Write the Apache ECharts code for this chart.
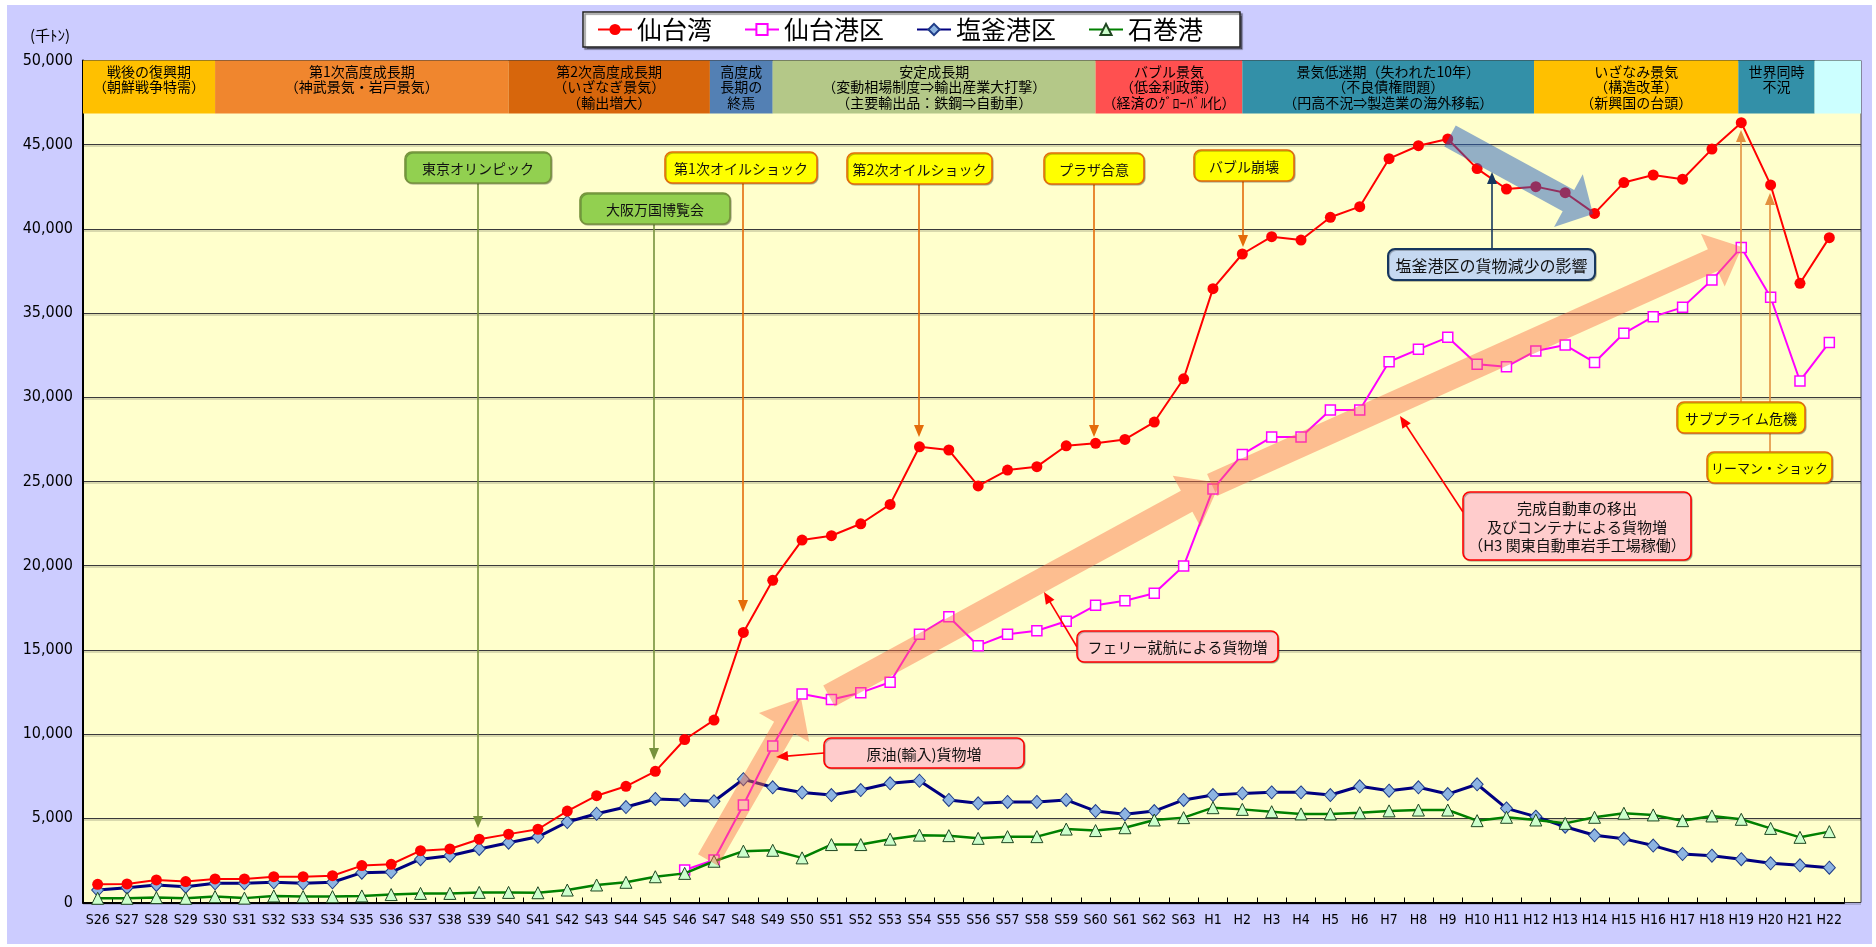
<!DOCTYPE html>
<html>
<head>
<meta charset="utf-8">
<script src="https://cdn.jsdelivr.net/npm/echarts@6/dist/echarts.min.js"></script>
<style>
html,body{margin:0;padding:0;background:#fff;}
#chart{width:1876px;height:947px;}
</style>
</head>
<body>
<div id="chart"></div>
<script>
// ---------------- data ----------------
const categories = ['S26','S27','S28','S29','S30','S31','S32','S33','S34','S35','S36','S37','S38','S39','S40','S41','S42','S43','S44','S45','S46','S47','S48','S49','S50','S51','S52','S53','S54','S55','S56','S57','S58','S59','S60','S61','S62','S63','H1','H2','H3','H4','H5','H6','H7','H8','H9','H10','H11','H12','H13','H14','H15','H16','H17','H18','H19','H20','H21','H22'];

const sendaiwan = [1080,1100,1340,1240,1400,1400,1530,1530,1590,2190,2270,3080,3180,3760,4060,4350,5430,6340,6900,7790,9680,10830,16040,19130,21520,21780,22490,23640,27060,26870,24740,25680,25880,27120,27270,27500,28530,31100,36450,38510,39540,39340,40690,41320,44170,44940,45340,43580,42370,42510,42150,40920,42750,43200,42950,44740,46310,42610,36770,39480];

const sendaiko = [null,null,null,null,null,null,null,null,null,null,null,null,null,null,null,null,null,null,null,null,1930,2520,5790,9290,12380,12060,12460,13080,15930,16970,15250,15930,16140,16700,17650,17920,18360,19980,24550,26610,27640,27640,29240,29240,32110,32850,33560,31960,31820,32750,33100,32070,33800,34790,35340,36960,38900,35940,30970,33260];

const shiogamako = [740,880,1040,940,1140,1140,1200,1140,1200,1770,1810,2570,2780,3180,3550,3900,4780,5270,5670,6150,6090,6010,7320,6840,6530,6380,6680,7080,7230,6090,5890,5970,5970,6090,5430,5240,5430,6090,6380,6480,6540,6540,6380,6900,6640,6840,6440,7020,5590,5100,4500,3990,3780,3380,2880,2780,2570,2330,2210,2070];

const ishinomakiko = [250,250,290,250,350,260,390,350,350,390,470,540,540,600,600,580,740,1040,1200,1530,1730,2450,3050,3100,2650,3440,3440,3760,4000,3970,3810,3910,3910,4360,4270,4440,4900,5040,5630,5530,5390,5260,5260,5330,5440,5490,5490,4860,5060,4900,4700,5060,5300,5200,4860,5140,4940,4400,3870,4210];

const seriesNames = ['仙台湾','仙台港区','塩釜港区','石巻港'];

// economic periods (start / end in category-index units)
const periodStart = [-0.5, 4, 14, 20.86, 23, 34, 39, 48.94, 55.9, 58.5];
const periodEnd   = [4, 14, 20.86, 23, 34, 39, 48.94, 55.9, 58.5, 60.08];
const periodLabels = [
  '戦後の復興期\n（朝鮮戦争特需）',
  '第1次高度成長期\n（神武景気・岩戸景気）',
  '第2次高度成長期\n（いざなぎ景気）\n（輸出増大）',
  '高度成\n長期の\n終焉',
  '安定成長期\n（変動相場制度⇒輸出産業大打撃）\n（主要輸出品：鉄鋼⇒自動車）',
  'バブル景気\n（低金利政策）\n（経済のｸﾞﾛｰﾊﾞﾙ化）',
  '景気低迷期（失われた10年）\n（不良債権問題）\n（円高不況⇒製造業の海外移転）',
  'いざなみ景気\n（構造改革）\n（新興国の台頭）',
  '世界同時\n不況',
  ''
];
const yTicks = [0,5000,10000,15000,20000,25000,30000,35000,40000,45000,50000];

// ---------------- styles ----------------
const periodColors = ['#FFC000','#F0862E','#D7660C','#5380B4','#B4C888','#FF5050','#3390A8','#FFC000','#3390A8','#CCFFFF'];
const BAND_TOP = 50000, BAND_BOTTOM = 46850;
const CJK = "'Noto Sans CJK JP','Noto Sans CJK SC',sans-serif";
const NARROW = "'Liberation Sans Narrow','Arial Narrow','DejaVu Sans Condensed',sans-serif";

const chart = echarts.init(document.getElementById('chart'));

const kinds = {
  green:  {fill:'#92D050', stroke:'#76923C', line:'#76923C'},
  yellow: {fill:'#FFFF00', stroke:'#E46C0A', line:'#E46C0A'},
  yellow2:{fill:'#FFFF00', stroke:'#E46C0A', line:'#E3913F'},
  blue:   {fill:'#C6D9F1', stroke:'#17375E', line:'#17375E'},
  pink:   {fill:'#FFCCCC', stroke:'#FF0000', line:'#FF0000'}
};
const callouts = [
  {text:'東京オリンピック', box:[405,152,146,31], kind:'green', fs:14, from:[478,183], to:[478,828]},
  {text:'大阪万国博覧会', box:[580,193,150,31], kind:'green', fs:14, from:[654,224], to:[654,760]},
  {text:'第1次オイルショック', box:[665,152,152,31], kind:'yellow', fs:14, from:[743,183], to:[743,612]},
  {text:'第2次オイルショック', box:[847,153,145,31], kind:'yellow', fs:14, from:[919,184], to:[919,437]},
  {text:'プラザ合意', box:[1044,153,100,31], kind:'yellow', fs:14, from:[1094,184], to:[1094,437]},
  {text:'バブル崩壊', box:[1194,150,100,31], kind:'yellow', fs:14, from:[1243,181], to:[1243,247]},
  {text:'塩釜港区の貨物減少の影響', box:[1388,249,207,31], kind:'blue', fs:16, from:[1492,249], to:[1492,172]},
  {text:'リーマン・ショック', box:[1707,452,125,31], kind:'yellow2', fs:13, from:[1770,452], to:[1770,193]},
  {text:'サブプライム危機', box:[1677,402,128,31], kind:'yellow2', fs:14, from:[1741,402], to:[1741,130]},
  {text:'完成自動車の移出\n及びコンテナによる貨物増\n（H3 関東自動車岩手工場稼働）', box:[1463,492,228,68], kind:'pink', fs:15, lh:18.5, from:[1463,512], to:[1400,416]},
  {text:'フェリー就航による貨物増', box:[1077,631,201,31], kind:'pink', fs:15, from:[1077,647], to:[1044,592]},
  {text:'原油(輸入)貨物増', box:[824,738,200,30], kind:'pink', fs:15, from:[824,753], to:[776,757]}
];
const bigArrows = [
  {tail:[708,860], tip:[801,698], sh:11.5, hl:34, hw:29, color:'rgba(250,110,70,0.45)'},
  {tail:[829,696], tip:[1220,483], sh:12, hl:38, hw:29, color:'rgba(250,110,70,0.45)'},
  {tail:[1212,485], tip:[1742,247], sh:12, hl:32, hw:29, color:'rgba(250,110,70,0.45)'},
  {tail:[1450,136], tip:[1593,214], sh:12, hl:28, hw:30, color:'rgba(40,95,190,0.5)'}
];

function arrowPoly(tail, tip, sh, hl, hw){
  const dx = tip[0]-tail[0], dy = tip[1]-tail[1];
  const L = Math.hypot(dx,dy), ux = dx/L, uy = dy/L, px = -uy, py = ux;
  const bx = tip[0]-ux*hl, by = tip[1]-uy*hl;
  return [[tail[0]+px*sh, tail[1]+py*sh],[bx+px*sh, by+py*sh],[bx+px*hw, by+py*hw],tip.slice(),
          [bx-px*hw, by-py*hw],[bx-px*sh, by-py*sh],[tail[0]-px*sh, tail[1]-py*sh]];
}
function headPoly(from, to, hl, hw){
  const dx = to[0]-from[0], dy = to[1]-from[1];
  const L = Math.hypot(dx,dy), ux = dx/L, uy = dy/L, px = -uy, py = ux;
  const bx = to[0]-ux*hl, by = to[1]-uy*hl;
  return {pts:[to.slice(), [bx+px*hw, by+py*hw], [bx-px*hw, by-py*hw]], base:[bx+ux*1, by+uy*1]};
}

const graphics = [];
// white page edges
graphics.push({type:'rect', shape:{x:0,y:0,width:1876,height:5}, style:{fill:'#fff'}, z:100});
graphics.push({type:'rect', shape:{x:0,y:0,width:7,height:947}, style:{fill:'#fff'}, z:100});
graphics.push({type:'rect', shape:{x:0,y:944,width:1876,height:3}, style:{fill:'#fff'}, z:100});
graphics.push({type:'rect', shape:{x:1872,y:0,width:4,height:947}, style:{fill:'#fff'}, z:100});
// unit label
graphics.push({type:'text', x:30, y:35, style:{text:'(千ﾄﾝ)', font:"15px "+CJK, fill:'#000', verticalAlign:'middle', align:'left'}, z:100});
// big translucent arrows
bigArrows.forEach(a=>{
  graphics.push({type:'polygon', shape:{points:arrowPoly(a.tail,a.tip,a.sh,a.hl,a.hw)}, style:{fill:a.color}, z:60, silent:true});
});
// callout lines
callouts.forEach(c=>{
  const k = kinds[c.kind];
  const h = headPoly(c.from, c.to, 12, 5);
  graphics.push({type:'line', shape:{x1:c.from[0], y1:c.from[1], x2:h.base[0], y2:h.base[1]}, style:{stroke:k.line, lineWidth:1.6}, z:70});
  graphics.push({type:'polygon', shape:{points:h.pts}, style:{fill:k.line}, z:70});
});
// callout boxes
callouts.forEach(c=>{
  const k = kinds[c.kind];
  const [x,y,w,hh] = c.box;
  graphics.push({type:'rect', shape:{x:x,y:y,width:w,height:hh,r:7},
    style:{fill:k.fill, stroke:k.stroke, lineWidth:c.kind==='blue'?2:1.6, shadowColor:'rgba(0,0,0,0.25)', shadowOffsetX:1, shadowOffsetY:1}, z:80});
  graphics.push({type:'text', x:x+w/2, y:y+hh/2+1,
    style:{text:c.text, font:c.fs+"px "+CJK, fill:'#111', align:'center', verticalAlign:'middle', lineHeight:c.lh||c.fs+4}, z:81});
});

const periodData = periodStart.map((s,i)=>[s, periodEnd[i], i]);

const option = {
  animation:false,
  backgroundColor:'#CCCCFF',
  legend:{
    data:seriesNames,
    left:583, top:12,
    padding:[5,37,5,14],
    itemWidth:34, itemHeight:14, itemGap:32,
    backgroundColor:'#fff', borderColor:'#222', borderWidth:1.5,
    shadowColor:'rgba(0,0,0,0.45)', shadowOffsetX:2, shadowOffsetY:2, shadowBlur:1,
    textStyle:{fontSize:25, fontFamily:CJK, color:'#000'}
  },
  grid:[
    {left:83, right:32, top:60.5, bottom:44.5, show:false},
    {left:83, right:15, top:60.5, bottom:44.5, show:true, backgroundColor:'#FFFFCC', borderColor:'#404040', borderWidth:1, z:-1}
  ],
  xAxis:[
    {type:'category', gridIndex:0, data:categories, boundaryGap:true,
     axisLine:{lineStyle:{color:'#000', width:2}},
     axisTick:{show:true, inside:true, length:5, lineStyle:{color:'#000'}},
     axisLabel:{interval:0, margin:11, fontSize:14, fontFamily:NARROW, color:'#000'},
     splitLine:{show:false}},
    {type:'value', gridIndex:1, min:-0.5, max:60.08, show:false}
  ],
  yAxis:[
    {type:'value', gridIndex:0, min:yTicks[0], max:yTicks[yTicks.length-1], interval:yTicks[1]-yTicks[0],
     axisLine:{show:true, lineStyle:{color:'#000', width:2}},
     axisTick:{show:false},
     axisLabel:{margin:10, fontSize:16, fontFamily:NARROW, color:'#000', formatter:v=>v.toLocaleString('en-US')},
     splitLine:{show:false}},
    {type:'value', gridIndex:1, min:yTicks[0], max:yTicks[yTicks.length-1], interval:yTicks[1]-yTicks[0],
     axisLine:{show:false}, axisTick:{show:false}, axisLabel:{show:false},
     splitLine:{show:true, lineStyle:{color:'#3a3a3a', width:1.2, shadowColor:'rgba(0,0,0,0.3)', shadowOffsetY:1.5}}}
  ],
  series:[
    {type:'custom', name:'periods', xAxisIndex:1, yAxisIndex:1, data:periodData, clip:false, z:1, silent:true,
     renderItem:(params, api)=>{
       const i = api.value(2);
       const p0 = api.coord([api.value(0), BAND_TOP]);
       const p1 = api.coord([api.value(1), BAND_BOTTOM]);
       return {type:'group', children:[
         {type:'rect', shape:{x:p0[0], y:p0[1], width:p1[0]-p0[0], height:p1[1]-p0[1]}, style:{fill:periodColors[i]}},
         {type:'text', style:{text:periodLabels[i], x:(p0[0]+p1[0])/2, y:p0[1]+3, align:'center', verticalAlign:'top',
           font:"14px "+CJK, lineHeight:15.5, fill:'#000'}}
       ]};
     }},
    {type:'line', name:seriesNames[2], xAxisIndex:0, yAxisIndex:0, data:shiogamako, z:3,
     symbol:'diamond', symbolSize:[12,13], showAllSymbol:true,
     itemStyle:{color:'#8DB4E2', borderColor:'#1F3C88', borderWidth:1},
     lineStyle:{color:'#000080', width:3}},
    {type:'line', name:seriesNames[0], xAxisIndex:0, yAxisIndex:0, data:sendaiwan, z:4,
     symbol:'circle', symbolSize:11, showAllSymbol:true,
     itemStyle:{color:'#FF0000'},
     lineStyle:{color:'#FF0000', width:2}},
    {type:'line', name:seriesNames[1], xAxisIndex:0, yAxisIndex:0, data:sendaiko, z:5,
     symbol:'rect', symbolSize:10, showAllSymbol:true, connectNulls:false,
     itemStyle:{color:'#FFFFFF', borderColor:'#FF00FF', borderWidth:1.5},
     lineStyle:{color:'#FF00FF', width:2}},
    {type:'line', name:seriesNames[3], xAxisIndex:0, yAxisIndex:0, data:ishinomakiko, z:6,
     symbol:'triangle', symbolSize:[12,12], showAllSymbol:true,
     itemStyle:{color:'#CCFFCC', borderColor:'#1E4620', borderWidth:1},
     lineStyle:{color:'#008000', width:2.5}}
  ],
  graphic:{elements:graphics}
};
chart.setOption(option);
</script>
</body>
</html>
